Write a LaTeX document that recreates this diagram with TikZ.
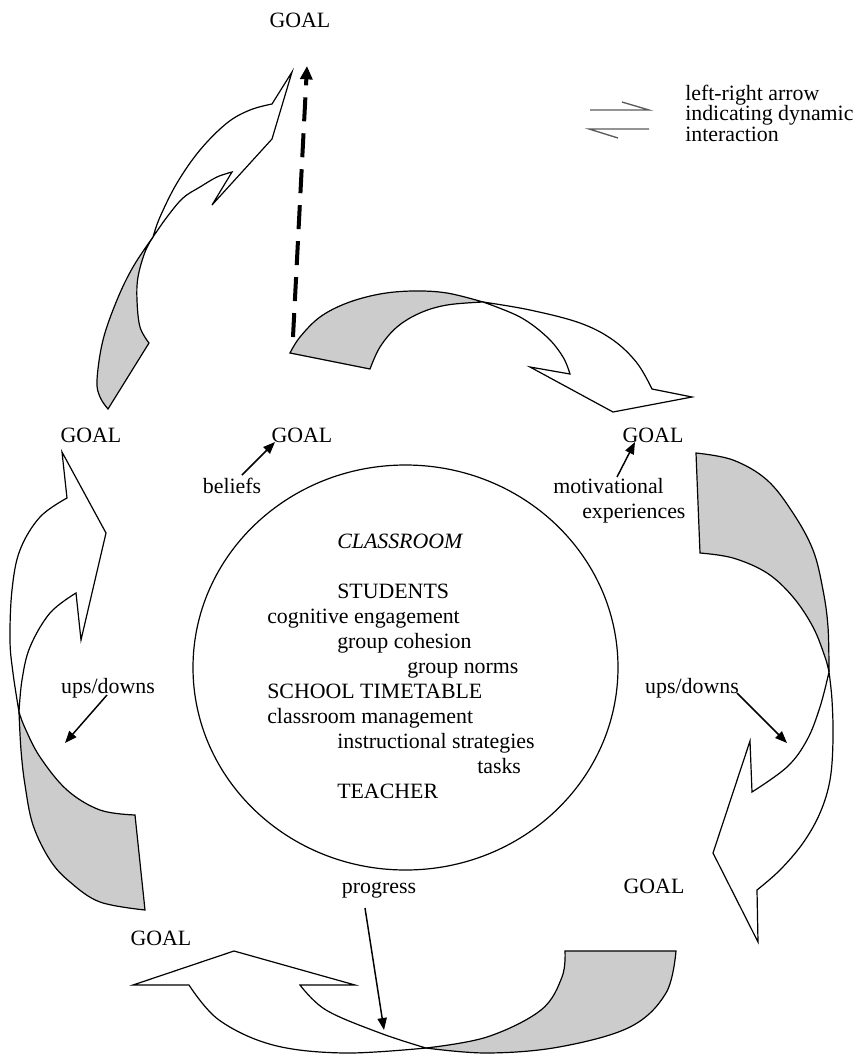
\documentclass[tikz,border=0pt]{standalone}
\usepackage{fontspec}
\setmainfont{Liberation Serif}
\usetikzlibrary{arrows.meta,shapes.geometric}
\definecolor{shade}{RGB}{204,204,204}
\definecolor{legendgray}{RGB}{90,90,90}
\begin{document}
\begin{tikzpicture}[x=0.75pt,y=-0.75pt,
  font=\fontsize{16.4}{20}\selectfont,
  band/.style={draw=black, line width=0.9pt, line join=miter, fill=white},
  backface/.style={band, fill=shade},
  lbl/.style={inner sep=0pt, text height=11.5pt, text depth=3.3pt},
  txt/.style={lbl, anchor=west},
  pointer/.style={line width=1.1pt, -{Triangle[length=9pt,width=7pt]}},
  legendline/.style={draw=legendgray, line width=1pt},
  curve/.style={smooth, tension=0.6}]
\useasboundingbox (0,0) rectangle (856,1054);

% ---------- top-left curved arrow ----------
\filldraw[backface] (153,237) -- plot[curve] coordinates {(153,237) (133,267) (117,300) (103,340) (97,380) (100,397) (108,409)}
  -- (149,343) -- plot[curve] coordinates {(149,343) (140,327) (137,300) (138,277) (145,252) (153,237)} -- cycle;
\filldraw[band] (153,237) -- plot[curve] coordinates {(153,237) (160,217) (177,183) (200,150) (227,123) (250,110) (272,104)}
  -- (292,72) -- (272,139) -- (212,205) -- (232,172)
  -- plot[curve] coordinates {(232,172) (217,177) (200,187) (183,198) (167,217) (153,237)} -- cycle;

% ---------- top-right curved arrow ----------
\filldraw[backface] (290,353) -- plot[curve] coordinates {(290,353) (300,337) (320,317) (347,303) (380,294) (413,291) (447,293) (483,302)}
  -- plot[curve] coordinates {(483,302) (447,305) (420,313) (397,327) (380,347) (370,369)} -- cycle;
\filldraw[band] (483,302) -- plot[curve] coordinates {(483,302) (530,310) (580,323) (613,340) (637,363) (652,389)}
  -- (692,397) -- (613,412) -- (530,367) -- (570,374)
  -- plot[curve] coordinates {(570,374) (563,357) (547,337) (520,317) (483,302)} -- cycle;

% ---------- right curved arrow ----------
\filldraw[backface] (696,453) -- plot[curve] coordinates {(696,453) (733,460) (767,480) (793,513) (813,550) (823,590) (828,627) (829,672)}
  -- plot[curve] coordinates {(829,672) (825,657) (813,627) (793,597) (767,573) (733,558) (700,553)} -- cycle;
\filldraw[band] (829,672) -- plot[curve] coordinates {(829,672) (832,700) (833,740) (830,780) (820,813) (803,843) (780,870) (757,890)}
  -- (758,942) -- (713,853) -- (750,741) -- (752,792)
  -- plot[curve] coordinates {(752,792) (787,767) (807,740) (820,707) (829,672)} -- cycle;

% ---------- bottom curved arrow ----------
\filldraw[backface] (565,951) -- (676,951)
  -- plot[curve] coordinates {(676,951) (666,993) (630,1027) (559,1047) (487,1053) (426,1048)}
  -- plot[curve] coordinates {(426,1048) (487,1037) (541,1010) (562,977) (565,951)} -- cycle;
\filldraw[band] (426,1048) -- plot[curve] coordinates {(426,1048) (344,1053) (273,1045) (219,1020) (189,985)}
  -- (133,985) -- (234,951) -- (355,985) -- (300,985)
  -- plot[curve] coordinates {(300,985) (326,1010) (380,1033) (426,1048)} -- cycle;

% ---------- left curved arrow ----------
\filldraw[backface] (19,712) -- plot[curve] coordinates {(19,712) (21,750) (25,785) (33,825) (50,860) (70,882) (100,902) (145,910)}
  -- (135,815) -- plot[curve] coordinates {(135,815) (100,810) (67,790) (40,757) (25,728) (19,712)} -- cycle;
\filldraw[band] (19,712) -- plot[curve] coordinates {(19,712) (13,673) (10,640) (12,590) (20,550) (40,517) (67,498)}
  -- (62,452) -- (106,533) -- (81,640) -- (76,593)
  -- plot[curve] coordinates {(76,593) (50,613) (30,647) (22,680) (19,712)} -- cycle;

% ---------- dashed arrow ----------
\coordinate (dashStart) at (293,337);
\coordinate (dashEnd) at (307,66);
\draw[line width=3pt, dash pattern=on 18pt off 9pt, -{Triangle[length=10pt,width=9pt]}] (dashStart) -- (dashEnd);

% ---------- classroom circle ----------
\node[draw, line width=0.9pt, ellipse, minimum width=318.75pt, minimum height=303.75pt, inner sep=0pt] (room) at (405.5,667.5) {};

\node[txt] (classroom) at (337,543) {\itshape CLASSROOM};
\node[txt] (students) at (337,593) {STUDENTS};
\node[txt] (cogeng) at (267,618) {cognitive engagement};
\node[txt] (cohesion) at (337,643) {group cohesion};
\node[txt] (norms) at (407,668) {group norms};
\node[txt] (timetable) at (267,693) {SCHOOL TIMETABLE};
\node[txt] (management) at (267,718) {classroom management};
\node[txt] (strategies) at (337,743) {instructional strategies};
\node[txt] (tasks) at (477,768) {tasks};
\node[txt] (teacher) at (337,793) {TEACHER};

% ---------- GOAL labels ----------
\node[lbl] (goalTop) at (300,22) {GOAL};
\node[lbl] (goalLeft) at (91,437) {GOAL};
\node[lbl] (goalBeliefs) at (302,437) {GOAL};
\node[lbl] (goalMotiv) at (653,437) {GOAL};
\node[lbl] (goalLowRight) at (654,888) {GOAL};
\node[lbl] (goalLowLeft) at (161,940) {GOAL};

% ---------- other labels ----------
\node[lbl] (beliefs) at (232,488) {beliefs};
\node[txt] (motiv) at (553,488) {motivational};
\node[txt] (exper) at (582,513) {experiences};
\node[lbl] (updownR) at (692,688) {ups/downs};
\node[lbl] (updownL) at (108,688) {ups/downs};
\node[lbl] (progress) at (379,888) {progress};

% ---------- label pointers ----------
\coordinate (belA) at (242,475); \coordinate (belB) at (275,442);
\coordinate (motA) at (617,477); \coordinate (motB) at (635,442);
\coordinate (udRA) at (737,693); \coordinate (udRB) at (787,743);
\coordinate (udLA) at (107,695); \coordinate (udLB) at (65,743);
\coordinate (prA) at (365,908); \coordinate (prB) at (384,1030);
\draw[pointer] (belA) -- (belB);
\draw[pointer] (motA) -- (motB);
\draw[pointer] (udRA) -- (udRB);
\draw[pointer] (udLA) -- (udLB);
\draw[pointer] (prA) -- (prB);

% ---------- legend ----------
\coordinate (lgA1) at (590,110); \coordinate (lgA2) at (649,110); \coordinate (lgA3) at (622,102);
\coordinate (lgB1) at (649,129); \coordinate (lgB2) at (589,129); \coordinate (lgB3) at (618,138);
\draw[legendline] (lgA1) -- (lgA2) -- (lgA3);
\draw[legendline] (lgB1) -- (lgB2) -- (lgB3);
\node[txt, align=left, font=\fontsize{16.4}{15.4}\selectfont, text height=, text depth=] (legendtext) at (685,113) {left-right arrow\\indicating dynamic\\interaction};
\end{tikzpicture}
\end{document}
